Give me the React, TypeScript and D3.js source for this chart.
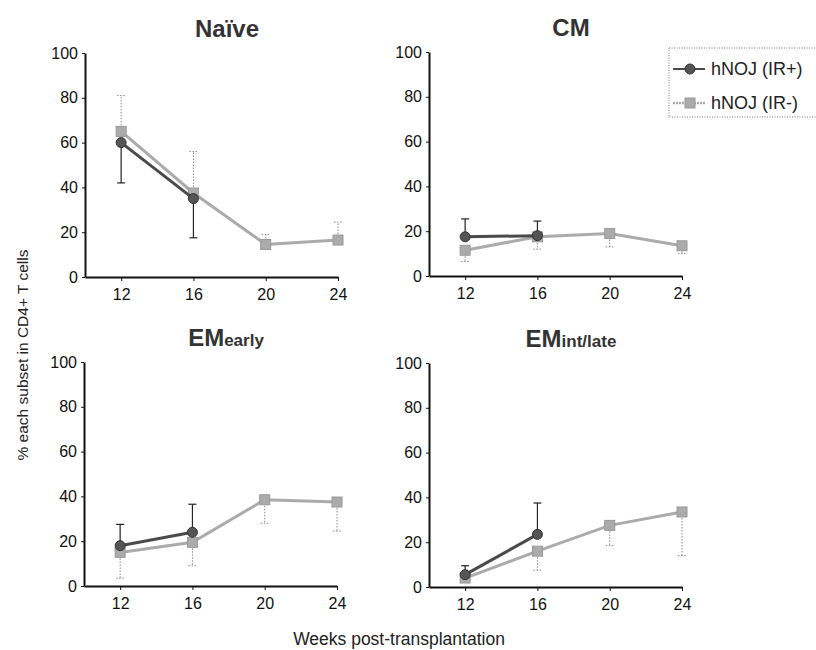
import React, { useEffect, useRef } from 'react'
import * as d3 from 'd3'

// weeks post-transplantation
const weeks = [12, 16, 20, 24]
const yTicks = [0, 20, 40, 60, 80, 100]

// hNOJ (IR+) only measured at 12 and 16 weeks; error arrays hold the end of each bar
const naivePlus = [60, 35]
const naivePlusErr = [42, 17.5]
const naiveMinus = [65, 37.5, 14.5, 16.5]
const naiveMinusErr = [81, 56, 19, 24.5]

const cmPlus = [17.5, 18]
const cmPlusErr = [25.5, 24.5]
const cmMinus = [11.5, 17.5, 19, 13.5]
const cmMinusErr = [6.5, 12, 13, 10]

const emEarlyPlus = [18, 24]
const emEarlyPlusErr = [27.5, 36.5]
const emEarlyMinus = [15, 19.5, 38.5, 37.5]
const emEarlyMinusErr = [3.5, 9, 28, 24.5]

const emIntPlus = [5.5, 23.5]
const emIntPlusErr = [9.5, 37.5]
const emIntMinus = [4, 16, 27.5, 33.5]
const emIntMinusErr = [2, 7.5, 18.5, 14]

const seriesNames = ['hNOJ (IR+)', 'hNOJ (IR-)']

const panels = [
  { title: 'Naïve', sub: '', left: 85, top: 53, plus: naivePlus, plusErr: naivePlusErr, minus: naiveMinus, minusErr: naiveMinusErr },
  { title: 'CM', sub: '', left: 429, top: 52, plus: cmPlus, plusErr: cmPlusErr, minus: cmMinus, minusErr: cmMinusErr },
  { title: 'EM', sub: 'early', left: 84, top: 362, plus: emEarlyPlus, plusErr: emEarlyPlusErr, minus: emEarlyMinus, minusErr: emEarlyMinusErr },
  { title: 'EM', sub: 'int/late', left: 429, top: 363, plus: emIntPlus, plusErr: emIntPlusErr, minus: emIntMinus, minusErr: emIntMinusErr },
]

const W = 816, H = 650
const PW = 253, PH = 224
const DARK = '#4a4a4a', LIGHT = '#ababab'
const FONT = 'Arial, "Liberation Sans", sans-serif'

export default function App() {
  const ref = useRef<SVGSVGElement>(null)

  useEffect(() => {
    const svg = d3.select(ref.current)
    svg.selectAll('*').remove()

    panels.forEach(p => {
      const x = d3.scaleLinear().domain([10, 24]).range([p.left, p.left + PW])
      const y = d3.scaleLinear().domain([0, 100]).range([p.top + PH, p.top])
      const g = svg.append('g')

      // title
      const t = g.append('text')
        .attr('x', p.left + 142).attr('y', p.top - 16)
        .attr('text-anchor', 'middle')
        .attr('font-family', FONT).attr('font-weight', 'bold')
        .attr('font-size', 24).attr('fill', '#333')
      t.append('tspan').text(p.title)
      if (p.sub) t.append('tspan').attr('font-size', 17).text(p.sub)

      // axes
      g.append('g')
        .attr('transform', `translate(${p.left},0)`)
        .call(d3.axisLeft(y).tickValues(yTicks).tickSize(3).tickPadding(4).tickSizeOuter(0))
      g.append('g')
        .attr('transform', `translate(0,${p.top + PH})`)
        .call(d3.axisBottom(x).tickValues(weeks).tickSize(4).tickPadding(8).tickSizeOuter(0))
      g.selectAll('.domain').attr('stroke', '#111').attr('stroke-width', 2)
      g.selectAll('.tick line').attr('stroke', '#111')
      g.selectAll('.tick text').attr('font-family', FONT).attr('font-size', 16).attr('fill', '#111')

      const line = d3.line<number>().x((_, i) => x(weeks[i])).y(d => y(d))

      // IR- series (light gray, dotted error bars, squares)
      p.minus.forEach((v, i) => {
        const cx = x(weeks[i]), e = y(p.minusErr[i])
        g.append('line').attr('x1', cx).attr('x2', cx).attr('y1', y(v)).attr('y2', e)
          .attr('stroke', '#888').attr('stroke-width', 1).attr('stroke-dasharray', '1.5,1.5')
        g.append('line').attr('x1', cx - 4).attr('x2', cx + 4).attr('y1', e).attr('y2', e)
          .attr('stroke', '#888').attr('stroke-width', 1).attr('stroke-dasharray', '1.5,1.5')
      })
      g.append('path').datum(p.minus).attr('d', line)
        .attr('fill', 'none').attr('stroke', LIGHT).attr('stroke-width', 3)
      g.selectAll('.sq').data(p.minus).enter().append('rect')
        .attr('x', (_, i) => x(weeks[i]) - 5).attr('y', d => y(d) - 5)
        .attr('width', 10).attr('height', 10)
        .attr('fill', LIGHT).attr('stroke', '#999').attr('stroke-width', 1)

      // IR+ series (dark, solid error bars, circles)
      p.plus.forEach((v, i) => {
        const cx = x(weeks[i]), e = y(p.plusErr[i])
        g.append('line').attr('x1', cx).attr('x2', cx).attr('y1', y(v)).attr('y2', e)
          .attr('stroke', '#222').attr('stroke-width', 1.2)
        g.append('line').attr('x1', cx - 4).attr('x2', cx + 4).attr('y1', e).attr('y2', e)
          .attr('stroke', '#222').attr('stroke-width', 1.2)
      })
      g.append('path').datum(p.plus).attr('d', line)
        .attr('fill', 'none').attr('stroke', DARK).attr('stroke-width', 3)
      g.selectAll('.ci').data(p.plus).enter().append('circle')
        .attr('cx', (_, i) => x(weeks[i])).attr('cy', d => y(d)).attr('r', 5)
        .attr('fill', '#555').attr('stroke', '#333').attr('stroke-width', 1)
    })

    // legend
    const lg = svg.append('g')
    lg.append('rect').attr('x', 669).attr('y', 48).attr('width', 150).attr('height', 69)
      .attr('fill', 'white').attr('stroke', '#777').attr('stroke-width', 1).attr('stroke-dasharray', '1,1.5')
    const rows = [69, 103]
    seriesNames.forEach((name, i) => {
      const ly = rows[i]
      lg.append('line').attr('x1', 673).attr('x2', 705).attr('y1', ly).attr('y2', ly)
        .attr('stroke', i === 0 ? DARK : LIGHT).attr('stroke-width', i === 0 ? 2 : 2.5)
        .attr('stroke-dasharray', i === 0 ? null : '2,1')
      if (i === 0) {
        lg.append('circle').attr('cx', 690).attr('cy', ly).attr('r', 5)
          .attr('fill', '#555').attr('stroke', '#333')
      } else {
        lg.append('rect').attr('x', 685).attr('y', ly - 5).attr('width', 10).attr('height', 10)
          .attr('fill', LIGHT).attr('stroke', '#999')
      }
      lg.append('text').attr('x', 711).attr('y', ly + 6)
        .attr('font-family', FONT).attr('font-size', 18).attr('fill', '#222').text(name)
    })

    // shared axis labels
    svg.append('text')
      .attr('transform', 'translate(28,355) rotate(-90)')
      .attr('text-anchor', 'middle').attr('font-family', FONT).attr('font-size', 15.5).attr('fill', '#222')
      .text('% each subset in CD4+ T cells')
    svg.append('text')
      .attr('x', 399).attr('y', 645)
      .attr('text-anchor', 'middle').attr('font-family', FONT).attr('font-size', 17.5).attr('fill', '#222')
      .text('Weeks post-transplantation')
  }, [])

  return (
    <svg ref={ref} width={W} height={H} style={{ position: 'absolute', left: 0, top: 0, background: 'white' }} />
  )
}
